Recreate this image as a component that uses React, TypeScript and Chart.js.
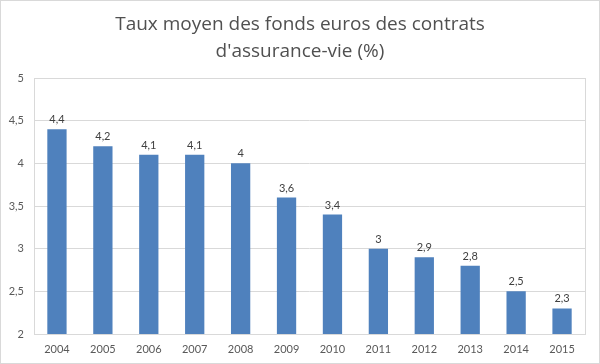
import React, { useEffect, useRef } from "react";
import { Chart, registerables } from "chart.js";

Chart.register(...registerables);

const years = ["2004", "2005", "2006", "2007", "2008", "2009", "2010", "2011", "2012", "2013", "2014", "2015"];
const rates = [4.4, 4.2, 4.1, 4.1, 4.0, 3.6, 3.4, 3.0, 2.9, 2.8, 2.5, 2.3];
const titleLines = ["Taux moyen des fonds euros des contrats", "d'assurance-vie (%)"];

const fmt = (v: number) => String(v).replace(".", ",");

export default function App() {
  const ref = useRef<HTMLCanvasElement | null>(null);
  useEffect(() => {
    document.body.style.margin = "0";
    const ctx = ref.current!;
    const font = "Lato, 'Open Sans', sans-serif";
    const titleFont = "'Open Sans', Lato, sans-serif";
    const titlePlugin = {
      id: "customTitle",
      afterDraw(chart: any) {
        const c = chart.ctx;
        c.save();
        c.fillStyle = "#505050";
        c.font = `19px ${titleFont}`;
        c.textAlign = "center";
        c.textBaseline = "middle";
        c.fillText(titleLines[0], 299, 24);
        c.fillText(titleLines[1], 299, 51);
        c.restore();
      },
    };
    const boxPlugin = {
      id: "box",
      afterDatasetsDraw(chart: any) {
        const { left, right, top, bottom } = chart.chartArea;
        const c = chart.ctx;
        c.save();
        c.strokeStyle = "#d9d9d9";
        c.lineWidth = 1;
        c.strokeRect(Math.round(left) + 0.5, Math.round(top) + 0.5, Math.round(right - left), Math.round(bottom - top));
        c.restore();
      },
    };
    const labelPlugin = {
      id: "valueLabels",
      afterDatasetsDraw(chart: any) {
        const c = chart.ctx;
        const meta = chart.getDatasetMeta(0);
        c.save();
        c.fillStyle = "#404040";
        c.font = `11px ${font}`;
        c.textAlign = "center";
        c.textBaseline = "bottom";
        meta.data.forEach((bar: any, i: number) => {
          c.fillText(fmt(rates[i]), bar.x, bar.y - 4);
        });
        c.restore();
      },
    };
    const chart = new Chart(ctx, {
      type: "bar",
      data: {
        labels: years,
        datasets: [
          {
            data: rates,
            backgroundColor: "#4F81BD",
            barPercentage: 0.42,
            categoryPercentage: 1,
          },
        ],
      },
      options: {
        animation: false,
        responsive: false,
        layout: { padding: { top: 77, left: 0, right: 14, bottom: 0 } },
        plugins: { legend: { display: false }, tooltip: { enabled: false }, title: { display: false } },
        scales: {
          x: {
            grid: { display: false, drawTicks: false },
            border: { display: false },
            ticks: { color: "#595959", font: { size: 11, family: font }, padding: 9, maxRotation: 0 },
            afterFit(scale: any) {
              scale.height = 29;
            },
          },
          y: {
            min: 2,
            max: 5,
            grid: { color: "#d9d9d9", drawTicks: false },
            border: { display: false },
            ticks: {
              stepSize: 0.5,
              color: "#595959",
              font: { size: 11, family: font },
              padding: 10,
              callback: (v: any) => fmt(Number(v)),
            },
            afterFit(scale: any) {
              scale.width = 33;
            },
          },
        },
      },
      plugins: [titlePlugin, boxPlugin, labelPlugin],
    });
    return () => chart.destroy();
  }, []);
  return (
    <div style={{ width: 600, height: 364, boxSizing: "border-box", border: "1px solid #d9d9d9", position: "relative" }}>
      <canvas ref={ref} width={598} height={362} style={{ display: "block" }} />
    </div>
  );
}
